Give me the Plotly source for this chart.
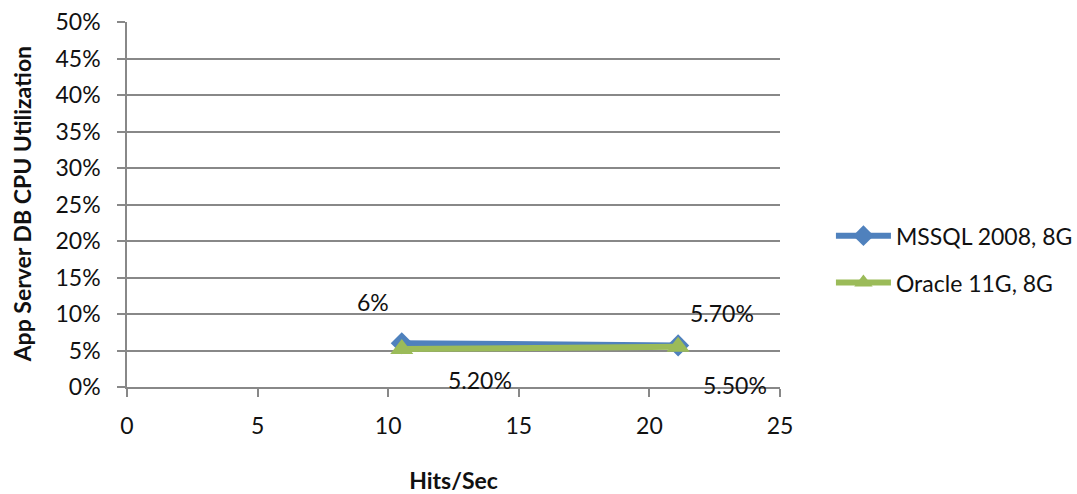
import plotly.graph_objects as go

# Hits/Sec and DB CPU utilisation (%) for each database
hits = [10.52, 21.1]
mssql_cpu = [6.0, 5.7]
oracle_cpu = [5.2, 5.5]
mssql_labels = ["6%", "5.70%"]
oracle_labels = ["5.20%", "5.50%"]
series_names = ["MSSQL 2008, 8G", "Oracle 11G, 8G"]
y_ticks = list(range(0, 51, 5))
y_tick_text = [f"{v}%" for v in y_ticks]
x_ticks = list(range(0, 26, 5))

BLUE = "#4F81BD"
GREEN = "#9BBB59"
GRID = "#888888"
FONT = "Lato, 'Open Sans', sans-serif"
FS = 23

fig = go.Figure()
fig.add_trace(go.Scatter(
    x=hits, y=mssql_cpu, name=series_names[0], mode="lines+markers",
    line=dict(color=BLUE, width=6),
    marker=dict(symbol="diamond", size=17, color=BLUE),
    legendgroup="a",
))
fig.add_trace(go.Scatter(
    x=hits, y=oracle_cpu, name=series_names[1], mode="lines+markers",
    line=dict(color=GREEN, width=6),
    marker=dict(symbol="triangle-up", size=20, color=GREEN),
    legendgroup="b",
))

# data labels placed around each point
label_offsets_mssql = [(-29, 41), (44, 32)]
label_offsets_oracle = [(78, -31), (57, -38)]
for xs, ys, texts, offs in [
    (hits, mssql_cpu, mssql_labels, label_offsets_mssql),
    (hits, oracle_cpu, oracle_labels, label_offsets_oracle),
]:
    for xv, yv, t, (dx, dy) in zip(xs, ys, texts, offs):
        fig.add_annotation(x=xv, y=yv, text=t, showarrow=False,
                           xshift=dx, yshift=dy,
                           font=dict(family=FONT, size=FS, color="#111111"))

# vertical axis title
fig.add_annotation(
    xref="paper", yref="paper", x=-0.161, y=0.5,
    xanchor="center", yanchor="middle", textangle=-90, showarrow=False,
    text="<b>App Server DB CPU Utilization</b>",
    font=dict(family=FONT, size=FS, color="#111111"),
)

fig.update_layout(
    width=1077, height=494,
    margin=dict(l=127, r=297, t=22, b=107, autoexpand=False),
    paper_bgcolor="white", plot_bgcolor="white",
    font=dict(family=FONT, size=FS, color="#111111"),
    showlegend=True,
    legend=dict(x=1.078, y=0.35, xanchor="left", yanchor="middle",
                font=dict(family=FONT, size=FS, color="#111111"),
                tracegroupgap=14, itemwidth=55,
                bgcolor="rgba(0,0,0,0)"),
)
fig.update_xaxes(
    range=[0, 25], tickvals=x_ticks, showgrid=False, zeroline=False,
    showline=True, linecolor=GRID, linewidth=1.5,
    ticks="outside", ticklen=8, tickcolor=GRID, tickwidth=1.5,
    tickfont=dict(size=FS), ticklabelstandoff=10,
    title=dict(text="<b>Hits/Sec</b>", font=dict(size=FS), standoff=40),
)
fig.update_yaxes(
    range=[0, 50], tickvals=y_ticks, ticktext=y_tick_text,
    showgrid=True, gridcolor=GRID, gridwidth=1.5, zeroline=False,
    showline=True, linecolor=GRID, linewidth=1.5,
    ticks="outside", ticklen=8, tickcolor=GRID, tickwidth=1.5,
    tickfont=dict(size=FS), ticklabelstandoff=12,
)

fig.write_html("out.html")
